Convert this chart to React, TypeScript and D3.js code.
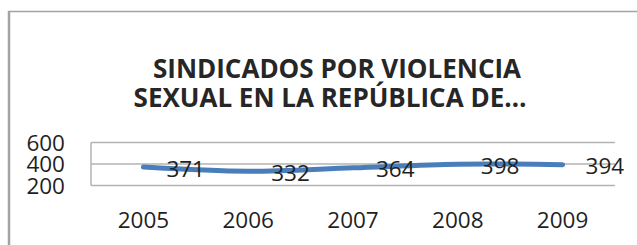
import React, { useEffect, useRef } from 'react';
import * as d3 from 'd3';

const years = ['2005', '2006', '2007', '2008', '2009'];
const sindicados = [371, 332, 364, 398, 394];
const yTicks = [200, 400, 600];
const titleLines = ['SINDICADOS POR VIOLENCIA', 'SEXUAL EN LA REPÚBLICA DE…'];

const WIDTH = 637;
const HEIGHT = 245;
const FONT = "'Open Sans', 'Noto Sans', sans-serif";

const App: React.FC = () => {
  const svgRef = useRef<SVGSVGElement>(null);

  useEffect(() => {
    if (!svgRef.current) return;
    const svg = d3.select(svgRef.current);
    svg.selectAll('*').remove();

    const plot = { left: 91, right: 615, top: 142.5, bottom: 185.5 };

    // chart frame (cropped at right and bottom)
    svg.append('line')
      .attr('x1', 8).attr('x2', WIDTH)
      .attr('y1', 11.5).attr('y2', 11.5)
      .attr('stroke', '#a3a3a3').attr('stroke-width', 1.5);
    svg.append('line')
      .attr('x1', 9).attr('x2', 9)
      .attr('y1', 11).attr('y2', HEIGHT)
      .attr('stroke', '#a3a3a3').attr('stroke-width', 2.5);

    // title
    svg.append('text')
      .attr('text-anchor', 'middle')
      .attr('font-family', FONT)
      .attr('font-weight', 700)
      .attr('font-size', 26)
      .attr('fill', '#262626')
      .selectAll('tspan')
      .data(titleLines)
      .enter()
      .append('tspan')
      .attr('x', (_, i) => (i === 0 ? 337 : 330))
      .attr('y', (_, i) => 78 + i * 29)
      .text(d => d);

    const x = d3.scaleBand<string>().domain(years).range([plot.left, plot.right]);
    const y = d3.scaleLinear().domain([200, 600]).range([plot.bottom, plot.top]);
    const cx = (d: string) => (x(d) ?? 0) + x.bandwidth() / 2;

    // gridlines
    svg.append('g')
      .selectAll('line')
      .data(yTicks)
      .enter()
      .append('line')
      .attr('x1', plot.left).attr('x2', plot.right)
      .attr('y1', d => y(d)).attr('y2', d => y(d))
      .attr('stroke', '#b3b3b3').attr('stroke-width', 1.5);

    // vertical axis line
    svg.append('line')
      .attr('x1', plot.left).attr('x2', plot.left)
      .attr('y1', plot.top).attr('y2', plot.bottom)
      .attr('stroke', '#b3b3b3').attr('stroke-width', 1.5);

    // y tick labels
    svg.append('g')
      .selectAll('text')
      .data(yTicks)
      .enter()
      .append('text')
      .attr('x', 65)
      .attr('y', d => y(d) + 8.2)
      .attr('text-anchor', 'end')
      .attr('font-family', FONT)
      .attr('font-size', 22.5)
      .attr('fill', '#1f1f1f')
      .text(d => d);

    // x tick labels
    svg.append('g')
      .selectAll('text')
      .data(years)
      .enter()
      .append('text')
      .attr('x', d => cx(d))
      .attr('y', 227.5)
      .attr('text-anchor', 'middle')
      .attr('font-family', FONT)
      .attr('font-size', 22.5)
      .attr('fill', '#1f1f1f')
      .text(d => d);

    // series line
    const line = d3.line<number>()
      .x((_, i) => cx(years[i]))
      .y(d => y(d))
      .curve(d3.curveCatmullRom.alpha(0.5));

    svg.append('path')
      .datum(sindicados)
      .attr('d', line)
      .attr('fill', 'none')
      .attr('stroke', '#4a7ebb')
      .attr('stroke-width', 5)
      .attr('stroke-linecap', 'round')
      .attr('stroke-linejoin', 'round');

    // data labels (right of point)
    svg.append('g')
      .selectAll('text')
      .data(sindicados)
      .enter()
      .append('text')
      .attr('x', (_, i) => cx(years[i]) + 23)
      .attr('y', d => y(d) + 9.5)
      .attr('font-family', FONT)
      .attr('font-size', 22.5)
      .attr('fill', '#1f1f1f')
      .text(d => d);
  }, []);

  return (
    <svg
      ref={svgRef}
      width={WIDTH}
      height={HEIGHT}
      style={{ position: 'absolute', left: 0, top: 0, background: '#fff' }}
    />
  );
};

export default App;
